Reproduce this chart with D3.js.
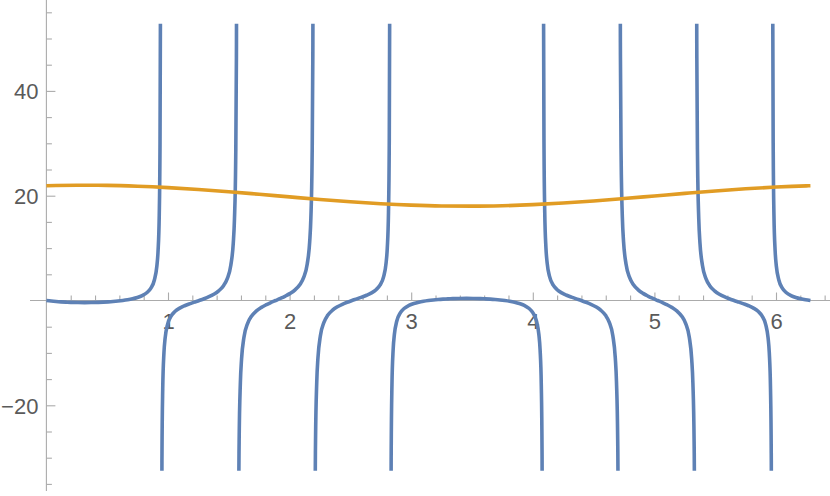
<!DOCTYPE html>
<html><head><meta charset="utf-8">
<script src="https://cdn.jsdelivr.net/npm/d3@7"></script>
<style>
html,body{margin:0;padding:0;background:#fff;}
svg{display:block;}
.tick text{font-family:"Liberation Sans",Arial,sans-serif;font-size:22px;fill:#5a5a5a;}
</style></head>
<body>
<svg id="chart" width="830" height="496"></svg>
<script>
// ---- data (blue: branches between asymptotes) ----
const b0x = [0, 0.04, 0.08, 0.12, 0.16, 0.2, 0.26, 0.314, 0.368, 0.428, 0.468, 0.508, 0.548, 0.588, 0.628, 0.668, 0.708, 0.748, 0.788, 0.828, 0.858, 0.888, 0.908, 0.918, 0.928, 0.934, 0.938, 0.9405];
const b0y = [0, -0.110, -0.196, -0.264, -0.316, -0.355, -0.390, -0.400, -0.390, -0.355, -0.316, -0.264, -0.196, -0.110, 0, 0.141, 0.325, 0.576, 0.940, 1.532, 2.316, 3.913, 6.490, 9.357, 16.25, 28.48, 56.19, 117.2];

const b1x = [0.9445, 0.9466, 0.9506, 0.9566, 0.9666, 0.9766, 0.9966, 1.0266, 1.0566, 1.0966, 1.1366, 1.1766, 1.2166, 1.2566, 1.2966, 1.3366, 1.3766, 1.4166, 1.4566, 1.4866, 1.5166, 1.5366, 1.5466, 1.5566, 1.5626, 1.5666, 1.5688];
const b1y = [-117.9, -56.83, -29.12, -16.90, -10.00, -7.132, -4.544, -2.923, -2.106, -1.452, -1.003, -0.642, -0.318, 0, 0.337, 0.722, 1.195, 1.838, 2.834, 4.122, 6.721, 10.90, 15.54, 26.69, 46.48, 91.31, 190.1];

const b2x = [1.5728, 1.5750, 1.5790, 1.5850, 1.5950, 1.6050, 1.6250, 1.6550, 1.6850, 1.7250, 1.7650, 1.8050, 1.8450, 1.8850, 1.9250, 1.9650, 2.0050, 2.0450, 2.0850, 2.1150, 2.1450, 2.1650, 2.1750, 2.1850, 2.1910, 2.1950, 2.1971];
const b2y = [-190.3, -91.56, -46.72, -26.94, -15.79, -11.14, -6.962, -4.354, -3.053, -2.033, -1.358, -0.843, -0.405, 0, 0.405, 0.843, 1.358, 2.033, 3.053, 4.354, 6.962, 11.14, 15.79, 26.94, 46.72, 91.56, 190.3];

const b3x = [2.2011, 2.2033, 2.2073, 2.2133, 2.2233, 2.2333, 2.2533, 2.2833, 2.3133, 2.3533, 2.3933, 2.4333, 2.4733, 2.5133, 2.5533, 2.5933, 2.6333, 2.6733, 2.7133, 2.7433, 2.7733, 2.7933, 2.8033, 2.8133, 2.8193, 2.8233, 2.8254];
const b3y = [-190.1, -91.31, -46.48, -26.69, -15.54, -10.90, -6.721, -4.122, -2.834, -1.838, -1.195, -0.722, -0.337, 0, 0.318, 0.642, 1.003, 1.452, 2.106, 2.923, 4.544, 7.132, 10.00, 16.90, 29.12, 56.83, 117.9];

const b4x = [2.8294, 2.8316, 2.8356, 2.8416, 2.8516, 2.8616, 2.8816, 2.9116, 2.9416, 2.9816, 3.0216, 3.0616, 3.1016, 3.1416, 3.1816, 3.2216, 3.2616, 3.3016, 3.3416, 3.4016, 3.4558, 3.5099, 3.5699, 3.6099, 3.6499, 3.6899, 3.7299, 3.7699, 3.8099, 3.8499, 3.8899, 3.9299, 3.9699, 3.9999, 4.0299, 4.0499, 4.0599, 4.0699, 4.0759, 4.0799, 4.0821];
const b4y = [-117.2, -56.19, -28.48, -16.25, -9.357, -6.490, -3.913, -2.316, -1.532, -0.940, -0.576, -0.325, -0.141, 0, 0.110, 0.196, 0.264, 0.316, 0.355, 0.390, 0.400, 0.390, 0.355, 0.316, 0.264, 0.196, 0.110, 0, -0.141, -0.325, -0.576, -0.940, -1.532, -2.316, -3.913, -6.490, -9.357, -16.25, -28.48, -56.19, -117.2];

const b5x = [4.0861, 4.0882, 4.0922, 4.0982, 4.1082, 4.1182, 4.1382, 4.1682, 4.1982, 4.2382, 4.2782, 4.3182, 4.3582, 4.3982, 4.4382, 4.4782, 4.5182, 4.5582, 4.5982, 4.6282, 4.6582, 4.6782, 4.6882, 4.6982, 4.7042, 4.7082, 4.7104];
const b5y = [117.9, 56.83, 29.12, 16.90, 10.00, 7.132, 4.544, 2.923, 2.106, 1.452, 1.003, 0.642, 0.318, 0, -0.337, -0.722, -1.195, -1.838, -2.834, -4.122, -6.721, -10.90, -15.54, -26.69, -46.48, -91.31, -190.1];

const b6x = [4.7144, 4.7166, 4.7206, 4.7266, 4.7366, 4.7466, 4.7666, 4.7966, 4.8266, 4.8666, 4.9066, 4.9466, 4.9866, 5.0266, 5.0666, 5.1066, 5.1466, 5.1866, 5.2266, 5.2566, 5.2866, 5.3066, 5.3166, 5.3266, 5.3326, 5.3366, 5.3387];
const b6y = [190.3, 91.56, 46.72, 26.94, 15.79, 11.14, 6.962, 4.354, 3.053, 2.033, 1.358, 0.843, 0.405, 0, -0.405, -0.843, -1.358, -2.033, -3.053, -4.354, -6.962, -11.14, -15.79, -26.94, -46.72, -91.56, -190.3];

const b7x = [5.3427, 5.3449, 5.3489, 5.3549, 5.3649, 5.3749, 5.3949, 5.4249, 5.4549, 5.4949, 5.5349, 5.5749, 5.6149, 5.6549, 5.6949, 5.7349, 5.7749, 5.8149, 5.8549, 5.8849, 5.9149, 5.9349, 5.9449, 5.9549, 5.9609, 5.9649, 5.9670];
const b7y = [190.1, 91.31, 46.48, 26.69, 15.54, 10.90, 6.721, 4.122, 2.834, 1.838, 1.195, 0.722, 0.337, 0, -0.318, -0.642, -1.003, -1.452, -2.106, -2.923, -4.544, -7.132, -10.00, -16.90, -29.12, -56.83, -117.9];

const b8x = [5.9710, 5.9732, 5.9772, 5.9832, 5.9932, 6.0032, 6.0232, 6.0532, 6.0832, 6.1232, 6.1632, 6.2032, 6.2432, 6.2832];
const b8y = [117.2, 56.19, 28.48, 16.25, 9.357, 6.490, 3.913, 2.316, 1.532, 0.940, 0.576, 0.325, 0.141, 0];

// ---- orange curve ----
const orangeX = [0, 0.25, 0.5, 0.75, 1.0, 1.25, 1.5, 1.75, 2.0, 2.25, 2.5, 2.75, 3.0, 3.25, 3.5, 3.75, 4.0, 4.25, 4.5, 4.75, 5.0, 5.25, 5.5, 5.75, 6.0, 6.25, 6.2832];
const orangeY = [21.902, 21.996, 21.966, 21.813, 21.548, 21.186, 20.751, 20.269, 19.771, 19.286, 18.846, 18.478, 18.204, 18.042, 18.002, 18.086, 18.289, 18.598, 18.995, 19.454, 19.947, 20.443, 20.912, 21.324, 21.654, 21.881, 21.902];

// ---- ticks ----
const xMajorTicks = [1, 2, 3, 4, 5, 6];
const xMinorTicks = [0.2,0.4,0.6,0.8,1.2,1.4,1.6,1.8,2.2,2.4,2.6,2.8,3.2,3.4,3.6,3.8,4.2,4.4,4.6,4.8,5.2,5.4,5.6,5.8,6.2,6.4];
const yMajorTicks = [-20, 20, 40];
const yMinorTicks = [-35,-30,-25,-15,-10,-5,5,10,15,25,30,35,45,50,55];

const blueX = [b0x,b1x,b2x,b3x,b4x,b5x,b6x,b7x,b8x];
const blueY = [b0y,b1y,b2y,b3y,b4y,b5y,b6y,b7y,b8y];

const svg = d3.select('#chart');
const W = 830, H = 496;
const x = d3.scaleLinear().domain([0, 2*Math.PI]).range([46.4, 46.4 + 121.6*2*Math.PI]);
const y = d3.scaleLinear().domain([-35, 55]).range([300.5 + 35*5.24, 300.5 - 55*5.24]);

const axisCol = '#ababab';

// axes lines
svg.append('line').attr('x1', 30).attr('x2', W).attr('y1', y(0)).attr('y2', y(0))
  .attr('stroke', axisCol).attr('stroke-width', 1.1);
svg.append('line').attr('x1', x(0)).attr('x2', x(0)).attr('y1', 0).attr('y2', 491)
  .attr('stroke', axisCol).attr('stroke-width', 1.1);

function styleAxis(g){
  g.select('.domain').remove();
  g.selectAll('.tick line').attr('stroke', axisCol).attr('stroke-width', 1.1);
}
// x axis minor
svg.append('g').attr('transform', `translate(0,${y(0)})`)
  .call(d3.axisBottom(x).tickValues(xMinorTicks).tickSize(-5).tickFormat(''))
  .call(styleAxis);
// x axis major
svg.append('g').attr('transform', `translate(0,${y(0)})`)
  .call(d3.axisBottom(x).tickValues(xMajorTicks).tickSize(-8).tickPadding(12.5).tickFormat(d3.format('d')))
  .call(styleAxis)
  .call(g => g.selectAll('.tick text').attr('font-family', null).attr('font-size', null));
// y axis minor
svg.append('g').attr('transform', `translate(${x(0)},0)`)
  .call(d3.axisLeft(y).tickValues(yMinorTicks).tickSize(-5.5).tickFormat(''))
  .call(styleAxis);
// y axis major
svg.append('g').attr('transform', `translate(${x(0)},0)`)
  .call(d3.axisLeft(y).tickValues(yMajorTicks).tickSize(-9).tickPadding(8)
        .tickFormat(d => d < 0 ? '\u2212' + Math.abs(d) : String(d)))
  .call(styleAxis)
  .call(g => g.selectAll('.tick text').attr('font-family', null).attr('font-size', null).attr('dy', '0.36em'));

// clip
svg.append('clipPath').attr('id', 'clip').append('rect')
  .attr('x', 0).attr('width', W).attr('y', y(52.8)).attr('height', y(-32.5) - y(52.8));

const line = d3.line().x(d => x(d[0])).y(d => y(d[1])).curve(d3.curveMonotoneX);

const plot = svg.append('g').attr('clip-path', 'url(#clip)');
blueX.forEach((xs, i) => {
  const pts = xs.map((v, j) => [v, blueY[i][j]]);
  plot.append('path').attr('d', line(pts)).attr('fill', 'none')
    .attr('stroke', '#5E81B5').attr('stroke-width', 3.6).attr('stroke-linejoin', 'round');
});
const oPts = orangeX.map((v, j) => [v, orangeY[j]]);
plot.append('path').attr('d', line(oPts)).attr('fill', 'none')
  .attr('stroke', '#E19C24').attr('stroke-width', 3.6);
</script>
</body></html>
